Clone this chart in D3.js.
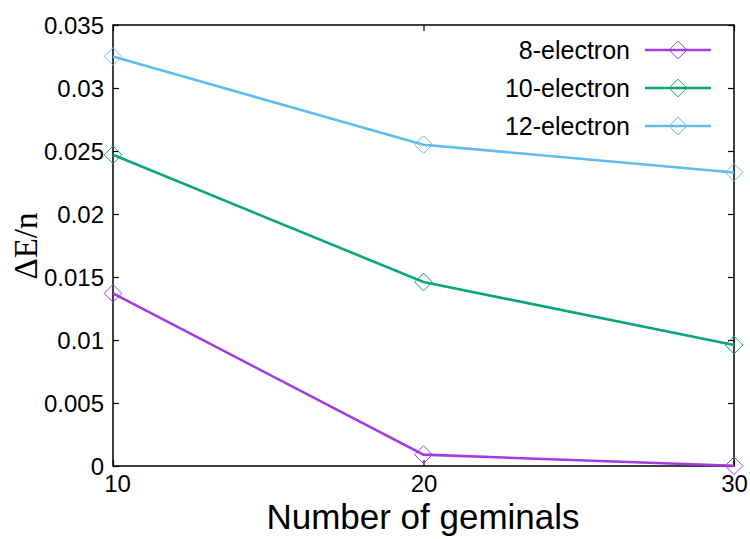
<!DOCTYPE html>
<html>
<head>
<meta charset="utf-8">
<script src="https://cdn.jsdelivr.net/npm/d3@7"></script>
<style>
  html, body { margin: 0; padding: 0; background: #fff; }
  svg { display: block; }
  text { font-family: "Liberation Sans", Arial, Helvetica, sans-serif; fill: #000; }
</style>
</head>
<body>
<svg id="chart" width="750" height="539"></svg>
<script>
// Number of geminals on the x axis
const geminals = [10, 20, 30];

// Energy error per electron for each system size
const seriesNames = ["8-electron", "10-electron", "12-electron"];
const values8  = [0.0137, 0.0009, 0.00002];
const values10 = [0.0247, 0.0146, 0.0096];
const values12 = [0.0325, 0.0255, 0.0233];
const seriesColors = ["#a23be0", "#0aa57a", "#5ebcee"];

const xTicks = [10, 20, 30];
const yTicks = [0, 0.005, 0.01, 0.015, 0.02, 0.025, 0.03, 0.035];

const series = seriesNames.map((name, i) => ({
  name,
  color: seriesColors[i],
  values: [values8, values10, values12][i].map((v, j) => ({ x: geminals[j], y: v }))
}));

const svg = d3.select("#chart");
const margin = { left: 113, right: 16, top: 25, bottom: 73 };
const W = 750, H = 539;
const x = d3.scaleLinear().domain([10, 30]).range([margin.left, W - margin.right]);
const y = d3.scaleLinear().domain([0, 0.035]).range([H - margin.bottom, margin.top]);

const tickFmt = d => d === 0 ? "0" : d3.format("")(+d.toFixed(3));

// Axes with inward ticks on all four sides
const gBottom = svg.append("g").attr("transform", `translate(0,${y(0)})`)
  .call(d3.axisBottom(x).tickValues(xTicks).tickSizeInner(-6).tickSizeOuter(0).tickPadding(9).tickFormat(d3.format("d")));
const gTop = svg.append("g").attr("transform", `translate(0,${margin.top})`)
  .call(d3.axisTop(x).tickValues(xTicks).tickSizeInner(-6).tickSizeOuter(0).tickFormat(""));
const gLeft = svg.append("g").attr("transform", `translate(${margin.left},0)`)
  .call(d3.axisLeft(y).tickValues(yTicks).tickSizeInner(-6).tickSizeOuter(0).tickPadding(9).tickFormat(tickFmt));
const gRight = svg.append("g").attr("transform", `translate(${W - margin.right},0)`)
  .call(d3.axisRight(y).tickValues(yTicks).tickSizeInner(-6).tickSizeOuter(0).tickFormat(""));

[gBottom, gTop, gLeft, gRight].forEach(g => {
  g.select(".domain").remove();
  g.selectAll(".tick line").attr("stroke", "#000").attr("stroke-width", 1.2);
  g.selectAll(".tick text").style("font-size", "24px").attr("font-family", "Liberation Sans, Arial, sans-serif");
});
gBottom.selectAll(".tick text").attr("dy", "0.72em");
// nudge the first x label clear of the "0" on the y axis
gBottom.selectAll(".tick text").filter(d => d === 10).attr("x", 4);
gLeft.selectAll(".tick text").attr("dy", "0.34em");

// Plot frame
svg.append("rect")
  .attr("x", margin.left).attr("y", margin.top)
  .attr("width", W - margin.right - margin.left)
  .attr("height", y(0) - margin.top)
  .attr("fill", "none").attr("stroke", "#000").attr("stroke-width", 1.5);

// Lines and diamond markers
const line = d3.line().x(d => x(d.x)).y(d => y(d.y));
const diamond = d3.symbol().type(d3.symbolDiamond2).size(200);

series.forEach(s => {
  svg.append("path").datum(s.values)
    .attr("d", line).attr("fill", "none")
    .attr("stroke", s.color).attr("stroke-width", 2.6);
  svg.append("g").selectAll("path").data(s.values).join("path")
    .attr("transform", d => `translate(${x(d.x)},${y(d.y)})`)
    .attr("d", diamond)
    .attr("fill", "none").attr("stroke", s.color).attr("stroke-width", 1);
});

// Legend
const legend = svg.append("g");
series.forEach((s, i) => {
  const ly = 50 + i * 38;
  legend.append("text").attr("x", 630).attr("y", ly).attr("dy", "0.36em")
    .attr("text-anchor", "end").style("font-size", "25px").text(s.name);
  legend.append("line").attr("x1", 645).attr("x2", 711).attr("y1", ly).attr("y2", ly)
    .attr("stroke", s.color).attr("stroke-width", 2.6);
  legend.append("path").attr("transform", `translate(678,${ly})`).attr("d", diamond)
    .attr("fill", "none").attr("stroke", s.color).attr("stroke-width", 1);
});

// Axis titles
svg.append("text").attr("x", 423).attr("y", 529)
  .attr("text-anchor", "middle").style("font-size", "35px").text("Number of geminals");
svg.append("text")
  .attr("transform", `translate(37,246) rotate(-90)`)
  .attr("text-anchor", "middle")
  .style("font-family", "'Liberation Serif', 'Times New Roman', serif")
  .style("font-size", "33px").text("ΔE/n");
</script>
</body>
</html>
